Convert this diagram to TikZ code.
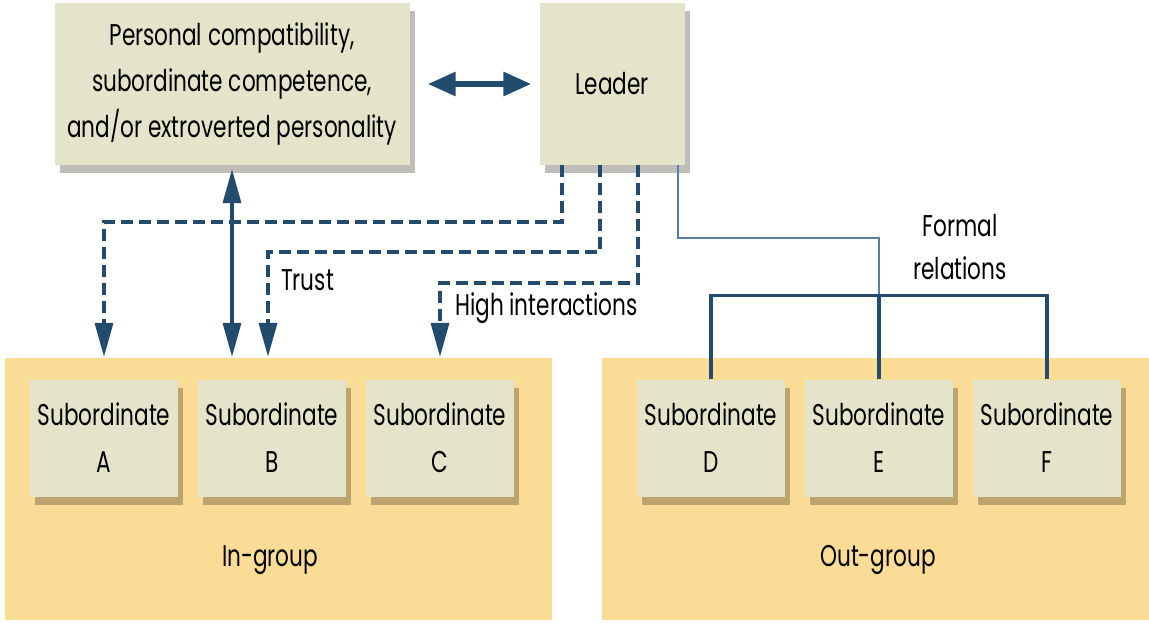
\documentclass[tikz,border=0pt]{standalone}
\usepackage{fontspec}
\setmainfont[FakeStretch=0.72]{Poppins}
\usetikzlibrary{arrows.meta,shadows}
\definecolor{boxfill}{HTML}{E3E4C9}
\definecolor{grp}{HTML}{FADC96}
\definecolor{navy}{HTML}{224B6E}
\definecolor{thinblue}{HTML}{5B7DA3}
\tikzset{
  card/.style={fill=boxfill, draw=none, align=center, inner sep=0pt,
    drop shadow={shadow xshift=5pt, shadow yshift=-8pt, opacity=0.3, fill=black!75!brown},
    font=\fontsize{30}{46}\selectfont},
  sub/.style={card, minimum width=148pt, minimum height=117pt, font=\fontsize{30}{47}\selectfont},
  grpbox/.style={fill=grp, draw=none, minimum width=547pt, minimum height=262pt, inner sep=0pt},
  lbl/.style={font=\fontsize{30}{43}\selectfont, align=center, inner sep=0pt},
  tipv/.tip={Triangle[length=34pt,width=18pt]},
  dashlink/.style={navy, line width=3.5pt, dash pattern=on 12pt off 6pt, -tipv},
  solidlink/.style={navy, line width=3.5pt},
  thinlink/.style={thinblue, line width=2.2pt}
}
\begin{document}
\begin{tikzpicture}[x=1pt,y=-1pt]
\useasboundingbox (0,0) rectangle (1149,622);
% groups
\node[grpbox] (In) at (278.5,489) {};
\node[grpbox] (Out) at (875.5,489) {};
\node[lbl] (inlbl) at (270,560) {In-group};
\node[lbl] (outlbl) at (878,560) {Out-group};
% top boxes
\node[card, minimum width=355pt, minimum height=162pt] (P) at (232,84)
  {Personal compatibility,\\subordinate competence,\\and/or extroverted personality};
\node[card, minimum width=145pt, minimum height=162pt] (L) at (612,84) {Leader};
% subordinates
\node[sub] (A) at (104,438) {Subordinate\\A};
\node[sub] (B) at (272,438) {Subordinate\\B};
\node[sub] (C) at (440,438) {Subordinate\\C};
\node[sub] (D) at (711,438) {Subordinate\\D};
\node[sub] (E) at (879,438) {Subordinate\\E};
\node[sub] (F) at (1047,438) {Subordinate\\F};
% horizontal double arrow
\draw[navy, line width=6pt, {Triangle[length=28pt,width=23pt]}-{Triangle[length=28pt,width=23pt]}]
  ([xshift=18pt]P.east) -- ([xshift=-8pt]L.west);
% vertical double arrow
\draw[solidlink, tipv-tipv, shorten >=1pt]
  ([yshift=-4pt]P.south) -- (P.south |- In.north);
% dashed links
\coordinate (la) at ([xshift=-50pt]L.south);
\coordinate (lb) at ([xshift=-12pt]L.south);
\coordinate (lc) at ([xshift=26pt]L.south);
\coordinate (ld) at ([xshift=66pt]L.south);
\draw[dashlink, shorten >=1pt] (la) -- ++(0,57) -| (A.north |- In.north);
\draw[dashlink, shorten >=1pt] (lb) -- ++(0,87) -| ([xshift=-4pt]B.north |- In.north);
\draw[dashlink, shorten >=1pt] (lc) -- ++(0,118) -| (C.north |- In.north);
% thin formal line
\draw[thinlink] (ld) -- ++(0,73) -| (E.north);
% formal bracket
\draw[solidlink] (D.north) -- ++(0,-84) -| (F.north);
\draw[solidlink] (E.north) -- ++(0,-84);
% labels
\node[lbl, anchor=west] (trust) at (281,280) {Trust};
\node[lbl, anchor=west] (high) at (455,308) {High interactions};
\node[lbl] (formal) at (960,247) {Formal\\relations};
\end{tikzpicture}
\end{document}
